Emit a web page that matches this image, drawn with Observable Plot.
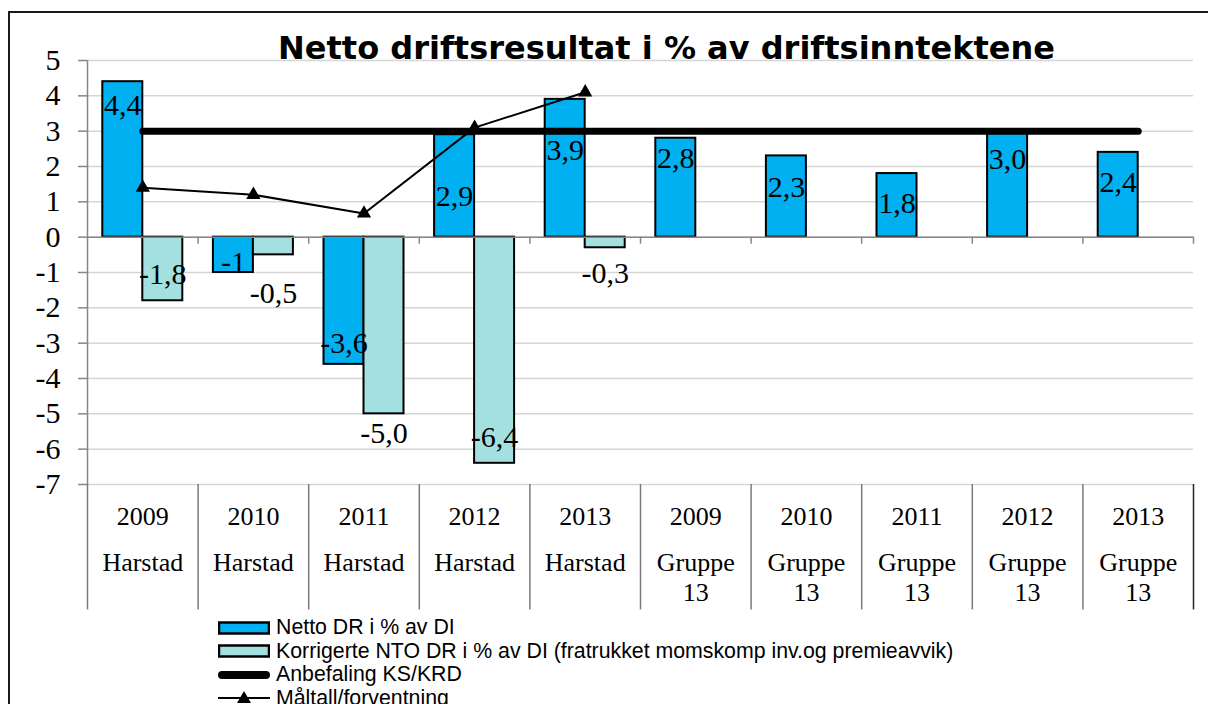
<!DOCTYPE html>
<html><head><meta charset="utf-8">
<script src="https://cdn.jsdelivr.net/npm/d3@7"></script>
<script src="https://cdn.jsdelivr.net/npm/@observablehq/plot@0.6"></script>
<style>
html,body{margin:0;padding:0;background:#fff;}
#wrap{position:relative;width:1208px;height:704px;overflow:hidden;background:#fff;}
#border{position:absolute;left:8px;top:11px;width:1300px;height:800px;border:2px solid #1a1a1a;box-sizing:border-box;}
#chart{position:absolute;left:0;top:0;}
#title{position:absolute;left:0;width:1333px;top:32px;text-align:center;font:bold 32px "DejaVu Sans";line-height:32px;white-space:nowrap;color:#000;}
#legend{position:absolute;left:218px;top:616px;font:21.3px "Liberation Sans";color:#000;}
.row{display:flex;align-items:center;height:23.5px;white-space:nowrap;}
.row svg{margin-right:6px;flex:none;}
</style>
</head><body>
<div id="wrap">
  <div id="border"></div>
  <div id="chart"></div>
  <div id="title">Netto driftsresultat i % av driftsinntektene</div>
  <div id="legend"></div>
</div>
<script>
// ---- data ----
const years = ["2009","2010","2011","2012","2013","2009","2010","2011","2012","2013"];
const units = ["Harstad","Harstad","Harstad","Harstad","Harstad","Gruppe\n13","Gruppe\n13","Gruppe\n13","Gruppe\n13","Gruppe\n13"];
const netto = [4.4, -1, -3.6, 2.9, 3.9, 2.8, 2.3, 1.8, 3.0, 2.4];
const nettoText = ["4,4","-1","-3,6","2,9","3,9","2,8","2,3","1,8","3,0","2,4"];
const nettoTextAt = [3.74, -0.71, -3.0, 1.16, 2.46, 2.24, 1.42, 0.96, 2.2, 1.54];
const korrigert = [-1.8, -0.5, -5.0, -6.4, -0.3];
const korrText = ["-1,8","-0,5","-5,0","-6,4","-0,3"];
const korrTextAt = [-1.05, -1.6, -5.55, -5.66, -1.02];
const anbefaling = [3, 3, 3, 3, 3, 3, 3, 3, 3, 3];
const maltall = [1.4, 1.2, 0.67, 3.1, 4.1];
const yTicks = [5, 4, 3, 2, 1, 0, -1, -2, -3, -4, -5, -6, -7];
const seriesNames = [
  "Netto DR i % av DI",
  "Korrigerte NTO DR i % av DI (fratrukket momskomp inv.og premieavvik)",
  "Anbefaling KS/KRD",
  "Måltall/forventning"
];
const colNetto = "#00b0f0", colKorr = "#a5e0e0";

// ---- tables ----
const cats = years.map((y, i) => y + " " + units[i]);
const catRows = cats.map((c, i) => ({cat: c, year: years[i], unit: units[i]}));
const nettoRows = netto.map((v, i) => ({cat: cats[i], v, t: nettoText[i], at: nettoTextAt[i]}));
const korrRows = korrigert.map((v, i) => ({cat: cats[i], v, t: korrText[i], at: korrTextAt[i]}));
const anbRows = anbefaling.map((v, i) => ({cat: cats[i], v}));
const malRows = maltall.map((v, i) => ({cat: cats[i], v}));

const W = 1208, H = 612, ML = 87, MR = 15, MT = 60, MB = 128;
const bw = (W - ML - MR) / cats.length;
const barW = 40, pad = (bw - 2 * barW) / 2;
const yMin = -7, yBelow = -10.55;
const axisGray = "#868686", sepGray = "#7a7a7a";

const chart = Plot.plot({
  width: W, height: H, marginLeft: ML, marginRight: MR, marginTop: MT, marginBottom: MB,
  style: {background: "transparent", overflow: "visible"},
  x: {type: "band", domain: cats, padding: 0, round: false, axis: null},
  y: {domain: [yMin, 5], axis: null},
  marks: [
    Plot.ruleY(yTicks, {stroke: "#d6d6d6", strokeWidth: 1.5}),
    Plot.barY(nettoRows, {x: "cat", y: "v", fill: colNetto, stroke: "#000", strokeWidth: 2, insetLeft: pad, insetRight: pad + barW}),
    Plot.barY(korrRows, {x: "cat", y: "v", fill: colKorr, stroke: "#000", strokeWidth: 2, insetLeft: pad + barW, insetRight: pad}),
    Plot.ruleY([0], {stroke: axisGray, strokeWidth: 1.5}),
    Plot.ruleX(cats.slice(1), {x: d => d, dx: -bw / 2, y1: 0, y2: -0.2, stroke: axisGray, strokeWidth: 1.5}),
    Plot.ruleX([cats[cats.length - 1]], {x: d => d, dx: bw / 2, y1: 0, y2: -0.2, stroke: axisGray, strokeWidth: 1.5}),
    Plot.line(anbRows, {x: "cat", y: "v", stroke: "#000", strokeWidth: 7, strokeLinecap: "round"}),
    Plot.line(malRows, {x: "cat", y: "v", stroke: "#000", strokeWidth: 2}),
    Plot.dot(malRows, {x: "cat", y: "v", symbol: "triangle", r: 5.3, fill: "#000", stroke: "none"}),
    Plot.text(nettoRows, {x: "cat", y: "at", text: "t", dx: -barW / 2, fontSize: 30, fontFamily: "Liberation Serif", fill: "#000"}),
    Plot.text(korrRows, {x: "cat", y: "at", text: "t", dx: barW / 2, fontSize: 30, fontFamily: "Liberation Serif", fill: "#000"}),
    // y axis line and ticks
    Plot.ruleX([cats[0]], {x: d => d, dx: -bw / 2, y1: 5, y2: yMin, stroke: axisGray, strokeWidth: 1.5}),
    Plot.axisY({ticks: yTicks, tickSize: 9, tickPadding: 18, tickFormat: d => String(d), fontSize: 30, fontFamily: "Liberation Serif", stroke: axisGray, strokeWidth: 1.5, fill: "#000", label: null}),
    // category separators
    Plot.ruleX(cats, {x: d => d, dx: -bw / 2, y1: yMin, y2: yBelow, stroke: sepGray, strokeWidth: 1.5}),
    Plot.ruleX([cats[cats.length - 1]], {x: d => d, dx: bw / 2, y1: yMin, y2: yBelow, stroke: "#222", strokeWidth: 1.5}),
    // category labels
    Plot.text(catRows, {x: "cat", text: "year", frameAnchor: "bottom", lineAnchor: "middle", dy: 32, fontSize: 26, fontFamily: "Liberation Serif", fill: "#000"}),
    Plot.text(catRows, {x: "cat", text: "unit", frameAnchor: "bottom", lineAnchor: "top", dy: 65, lineHeight: 1.15, fontSize: 26, fontFamily: "Liberation Serif", fill: "#000"})
  ]
});
document.getElementById("chart").appendChild(chart);

// ---- legend ----
const symbols = [
  `<svg width="52" height="14"><rect x="1" y="1.5" width="50" height="11" fill="${colNetto}" stroke="#000" stroke-width="2.5"/></svg>`,
  `<svg width="52" height="14"><rect x="1" y="1.5" width="50" height="11" fill="${colKorr}" stroke="#000" stroke-width="2.5"/></svg>`,
  `<svg width="52" height="14"><line x1="4" y1="7" x2="48" y2="7" stroke="#000" stroke-width="8" stroke-linecap="round"/></svg>`,
  `<svg width="52" height="16"><line x1="0" y1="8" x2="52" y2="8" stroke="#000" stroke-width="2"/><path d="M26,1 L33,13 L19,13 Z" fill="#000"/></svg>`
];
const legend = document.getElementById("legend");
seriesNames.forEach((name, i) => {
  const row = document.createElement("div");
  row.className = "row";
  row.innerHTML = symbols[i] + "<span></span>";
  row.querySelector("span").textContent = name;
  legend.appendChild(row);
});
</script>
</body></html>
